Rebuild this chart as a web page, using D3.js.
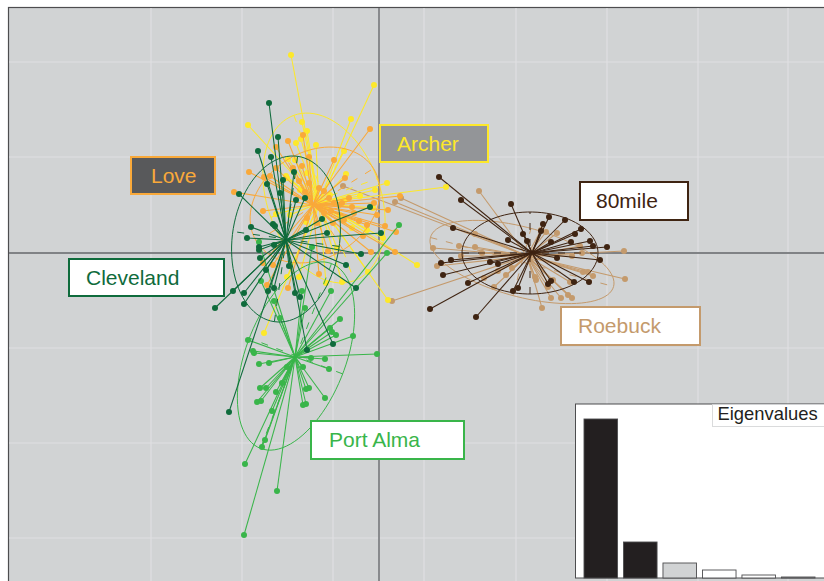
<!DOCTYPE html>
<html>
<head>
<meta charset="utf-8">
<script src="https://cdn.jsdelivr.net/npm/d3@7"></script>
<style>
    body { margin: 0; background: #fff; }
    svg { display: block; font-family: "Liberation Sans", Arial, sans-serif; }
</style>
</head>
<body>
<script>
// scores: [axis 1, axis 2]
const archer = [[-.88,1.98],[-.05,1.68],[-1.31,1.28],[-.28,1.34],[-.77,1.31],[-.72,1.22],[-.78,1.14],[-.83,1.10],[-.63,1.08],[-.35,1.02],
    [-.91,.94],[-.84,.93],[-.93,.77],[-.92,.75],[-.72,.80],[-.33,.79],[.08,.70],[.67,.66],[.38,-.12],[.04,.15],
    [-.12,.23],[-.06,.45],[.09,-.47],[-.11,-.19],[-.37,-.29],[-.53,-.30],[-.80,-.24],[-.92,-.24],[-1.03,.39],[-1.15,-.80],
    [-.42,.05],[-.49,.58],[-.34,.53],[-.79,.63],[-.39,.38],[-.27,.25],[-.73,.31],[-.89,.38],[-.04,.63],[-.19,.57]]
const love = [[-.09,1.24],[-.91,1.12],[-.76,1.18],[-1.03,1.06],[-.45,.93],[-.70,.96],[-1.30,.81],[-1.45,.61],[-1.09,.77],[-1.15,.76],
    [-1.03,.85],[-.77,.87],[-.86,.85],[-.80,.72],[-.34,.75],[-.74,.61],[.21,.57],[-1.16,.42],[-.37,.50],[-.27,.46],
    [.09,.43],[-.12,.28],[.06,.27],[.17,.21],[-.16,.17],[-.35,.33],[-.46,.30],[-.51,.02],[-.08,.01],[.16,.01],
    [-.60,-.21],[-.91,-.35],[-1.12,-.32],[-1.16,-.10],[-1.06,-.12],
    [-.55,.62],[-.50,.55],[-.45,.50],[-.60,.65],[-.70,.70],[-.55,.40],[-.48,.42],[-.72,.35],[-.62,.30],[-.40,.48],
    [-.30,.55],[-.25,.40],[-.20,.32],[-.05,.50],[-.02,.38]]
const cleveland = [[-1.10,1.50],[-1.01,1.16],[-1.21,1.02],[-1.08,.96],[-.85,.81],[-1.12,.69],[-.96,.73],[-.99,.60],[-.83,.53],[-.74,.55],
    [-1.40,.59],[-1.28,.26],[-1.32,.15],[-1.06,.29],[-1.04,.27],[-1.20,.06],[-1.20,.03],[-1.19,-.05],[-1.05,.08],[-1.13,-.17],
    [-.90,-.13],[-1.46,-.38],[-1.35,-.40],[-1.64,-.55],[-1.35,-.51],[-1.11,-.38],[-1.05,-.35],[-.79,-.44],[-.84,-.40],[-.23,-.35],
    [-.33,-.12],[-.18,-.01],[.02,.20],[-.52,.20],[-.57,.34],[-.73,.23],[-.09,.46],[-1.50,-1.59],[-.46,-.91],[-.72,-.97]]
const portAlma = [[-1.35,-2.82],[-1.02,-2.38],[-1.34,-2.11],[-1.17,-1.94],[-1.14,-1.87],[-1.07,-1.58],[-1.22,-1.49],[-1.18,-1.48],[-1.03,-1.39],[-.97,-1.30],
    [-1.19,-1.35],[-1.13,-1.35],[-1.20,-1.11],[-1.10,-1.10],[-.92,-1.14],[-1.31,-.87],[-1.26,-.98],[-1.25,-1.00],[-.54,-1.45],[-.76,-1.52],
    [-.73,-1.51],[-.73,-1.36],[-.70,-1.35],[-.76,-1.14],[-.50,-1.16],[-.54,-1.06],[-.68,-1.05],[-.02,-1.01],[-.26,-.83],[-.43,-.82],
    [-.49,-.75],[-.47,-.79],[-.39,-.66],[-.74,-.55],[-1.05,-.48],[-.99,-.65],[-.48,-.38],[-.77,-.38],[.20,.28],[.08,0],
    [-.67,.06],[-1.18,-.28],[-1.20,.11]]
const roebuck = [[1.00,.62],[1.78,.20],[1.67,.21],[1.62,.23],[.96,.19],[.80,.07],[.96,.06],[.54,.05],[1.03,0],[.82,-.03],
    [.58,-.13],[1.05,-.25],[1.15,-.34],[1.19,-.18],[1.27,-.22],[1.33,-.15],[1.63,-.55],[1.72,-.45],[1.82,-.45],[1.89,-.42],
    [1.93,-.45],[1.69,-.34],[1.57,-.27],[1.56,-.24],[1.91,-.29],[2.04,-.19],[2.09,-.19],[2.14,-.23],[2.01,.07],[2.03,0],
    [1.93,-.03],[2.45,.02],[2.46,-.26],[1.74,-.27],[-.36,.67],[.16,.51],[.22,.55],[.13,-.48]]
const mile80 = [[.60,.76],[.82,.53],[1.32,.49],[1.70,.36],[1.86,.33],[1.64,.29],[2.02,.24],[1.96,.19],[1.62,.22],[1.44,.19],
    [1.29,.13],[1.48,.12],[.74,.25],[1.72,.11],[1.92,.11],[2.11,.12],[2.14,.07],[2.28,.06],[2.21,-.07],[1.78,-.05],
    [.72,-.07],[.62,-.10],[.64,-.22],[1.11,-.09],[1.19,-.11],[.89,-.30],[.51,-.56],[.97,-.64],[1.39,-.35],[1.34,-.38],
    [1.72,-.28],[1.69,-.31],[1.95,-.29],[2.10,-.29]]

const groupNames = ["Roebuck", "80mile", "Archer", "Love", "Port Alma", "Cleveland"]
const groupPoints = [roebuck, mile80, archer, love, portAlma, cleveland]
const groupColors = ["#c49a6c", "#3f2412", "#fde82a", "#f9a93a", "#39b54a", "#0f6b3c"]
// where the star lines meet
const centroids = [[1.48,-.03],[1.53,0],[-.60,.50],[-.66,.48],[-.84,-1.04],[-.93,.13]]
// ellipses: centre, half axes, angle of the long axis in degrees
const ellipseCentres = [[1.43,-.09],[1.51,0],[-.55,.55],[-.64,.48],[-.83,-1.03],[-.93,.14]]
const ellipseAxes = [[.948,.348],[.68,.41],[.88,.566],[.69,.53],[.99,.50],[.835,.537]]
const ellipseAngles = [-15, 0, -70, 32, 69, 82]

const gridX = [-2.28, -1.37, -.46, .45, 1.37, 2.28, 3.19, 4.09]
const gridY = [1.91, .96, -.95, -1.90, -2.85]

const eigenvalues = [15.9, 3.6, 1.5, .8, .3, .1]
const eigenFills = ["#231f20", "#231f20", "#d1d3d4", "#fff", "#fff", "#fff"]

const width = 824
const height = 581

const x = d3.scaleLinear().domain([-3.79, 4.45]).range([0, width])
const y = d3.scaleLinear().domain([2.53, -3.28]).range([0, height])

const svg = d3.select("body").append("svg")
    .attr("width", width)
    .attr("height", height)

// panel
svg.append("rect")
    .attr("x", 8.5).attr("y", 7.5)
    .attr("width", width).attr("height", height)
    .attr("fill", "#d1d3d4")
    .attr("stroke", "#4d4d4f")
    .attr("stroke-width", 1.2)

// grid
svg.append("g").selectAll("line").data(gridX).enter().append("line")
    .attr("x1", d => x(d)).attr("x2", d => x(d))
    .attr("y1", 8).attr("y2", height)
    .attr("stroke", "#dfe0e2").attr("stroke-width", 1.2)
svg.append("g").selectAll("line").data(gridY).enter().append("line")
    .attr("x1", 9).attr("x2", width)
    .attr("y1", d => y(d)).attr("y2", d => y(d))
    .attr("stroke", "#dfe0e2").attr("stroke-width", 1.2)

// axes through zero
svg.append("line")
    .attr("x1", x(0)).attr("x2", x(0)).attr("y1", 8).attr("y2", height)
    .attr("stroke", "#808285").attr("stroke-width", 1.8)
svg.append("line")
    .attr("x1", 9).attr("x2", width).attr("y1", y(0)).attr("y2", y(0))
    .attr("stroke", "#808285").attr("stroke-width", 1.8)

const line = d3.line().x(d => x(d[0])).y(d => y(d[1]))

groupNames.forEach((name, i) => {
    const g = svg.append("g").attr("class", "group").attr("data-name", name)
    const color = groupColors[i]
    const c = ellipseCentres[i]
    const a = ellipseAxes[i]
    const t = ellipseAngles[i] * Math.PI / 180

    // point on the ellipse outline
    const onEllipse = (u, v) => [
        c[0] + u * a[0] * Math.cos(t) - v * a[1] * Math.sin(t),
        c[1] + u * a[0] * Math.sin(t) + v * a[1] * Math.cos(t)
    ]

    g.append("path")
        .attr("d", line(d3.range(0, 361, 4).map(deg => onEllipse(Math.cos(deg * Math.PI / 180), Math.sin(deg * Math.PI / 180)))))
        .attr("fill", "none").attr("stroke", color).attr("stroke-width", 1)

    // dashed ellipse axes
    g.selectAll("line.axis").data([[[-1, 0], [1, 0]], [[0, -1], [0, 1]]]).enter().append("path")
        .attr("d", d => line(d.map(p => onEllipse(p[0], p[1]))))
        .attr("fill", "none").attr("stroke", color).attr("stroke-width", 1)
        .attr("stroke-dasharray", "7 9")

    // star
    g.selectAll("line.star").data(groupPoints[i]).enter().append("line")
        .attr("x1", x(centroids[i][0])).attr("y1", y(centroids[i][1]))
        .attr("x2", d => x(d[0])).attr("y2", d => y(d[1]))
        .attr("stroke", color).attr("stroke-width", 1.05)

    g.selectAll("circle").data(groupPoints[i]).enter().append("circle")
        .attr("cx", d => x(d[0])).attr("cy", d => y(d[1]))
        .attr("r", 3)
        .attr("fill", color)
})

// group labels
const labels = [
    { name: "Love", x0: 131, y0: 157, w: 84, h: 37, tx: 151, fill: "#58595b", stroke: "#f9a93a", text: "#f9a93a" },
    { name: "Archer", x0: 380, y0: 125, w: 108, h: 37, tx: 397, fill: "#939598", stroke: "#fde82a", text: "#fde82a" },
    { name: "80mile", x0: 580, y0: 182, w: 108, h: 38, tx: 596, fill: "#fff", stroke: "#3f2412", text: "#3f2412" },
    { name: "Roebuck", x0: 561, y0: 307, w: 139, h: 38, tx: 578, fill: "#fff", stroke: "#c49a6c", text: "#c49a6c" },
    { name: "Cleveland", x0: 69, y0: 259, w: 155, h: 37, tx: 86, fill: "#fff", stroke: "#0f6b3c", text: "#0f6b3c" },
    { name: "Port Alma", x0: 311, y0: 421, w: 153, h: 38, tx: 329, fill: "#fff", stroke: "#39b54a", text: "#39b54a" }
]
const label = svg.append("g").selectAll("g").data(labels).enter().append("g")
label.append("rect")
    .attr("x", d => d.x0).attr("y", d => d.y0)
    .attr("width", d => d.w).attr("height", d => d.h)
    .attr("fill", d => d.fill).attr("stroke", d => d.stroke).attr("stroke-width", 2)
label.append("text")
    .attr("x", d => d.tx).attr("y", d => d.y0 + d.h / 2 + 7)
    .attr("font-size", 21)
    .attr("fill", d => d.text)
    .text(d => d.name)

// eigenvalue inset
svg.append("rect")
    .attr("x", 575.5).attr("y", 404)
    .attr("width", 260).attr("height", 174)
    .attr("fill", "#fff").attr("stroke", "#4d4d4f").attr("stroke-width", 1)

const eigX = d3.scaleBand().domain(d3.range(eigenvalues.length)).range([584, 815]).paddingInner(0.15)
const eigY = d3.scaleLinear().domain([0, 15.9]).range([578, 419])

svg.append("g").selectAll("rect").data(eigenvalues).enter().append("rect")
    .attr("x", (d, i) => eigX(i))
    .attr("y", d => eigY(d))
    .attr("width", eigX.bandwidth())
    .attr("height", d => eigY(0) - eigY(d))
    .attr("fill", (d, i) => eigenFills[i])
    .attr("stroke", "#4d4d4f")
    .attr("stroke-width", 0.9)

svg.append("rect")
    .attr("x", 712.5).attr("y", 404.5)
    .attr("width", 120).attr("height", 22)
    .attr("fill", "#fff").attr("stroke", "#d1d3d4").attr("stroke-width", 0.8)
svg.append("text")
    .attr("x", 717.5).attr("y", 420)
    .attr("font-size", 18.4)
    .attr("fill", "#231f20")
    .text("Eigenvalues")
</script>
</body>
</html>
